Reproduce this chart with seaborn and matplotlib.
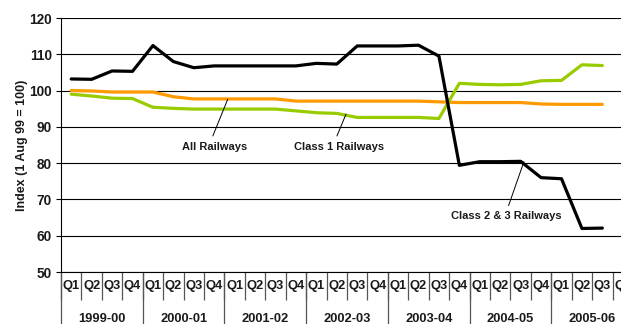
import numpy as np
import pandas as pd
import matplotlib
matplotlib.use("Agg")
import matplotlib.pyplot as plt
import seaborn as sns

# ---- data ----
years = ["1999-00", "2000-01", "2001-02", "2002-03", "2003-04", "2004-05", "2005-06"]
quarter_names = ["Q1", "Q2", "Q3", "Q4"]
quarter_labels = quarter_names * len(years)

all_railways = [100.0, 99.9, 99.6, 99.6, 99.6, 98.3, 97.7, 97.7, 97.7, 97.7, 97.7,
                97.1, 97.1, 97.1, 97.1, 97.1, 97.1, 97.1, 96.9, 96.7, 96.7, 96.7,
                96.7, 96.3, 96.2, 96.2, 96.2]
class1 = [99.0, 98.5, 97.9, 97.8, 95.4, 95.1, 94.9, 94.9, 94.9, 94.9, 94.9, 94.4,
          93.9, 93.7, 92.6, 92.6, 92.6, 92.6, 92.3, 102.0, 101.7, 101.6, 101.7,
          102.7, 102.8, 107.1, 106.9]
class23 = [103.2, 103.1, 105.4, 105.3, 112.4, 108.0, 106.3, 106.8, 106.8, 106.8,
           106.8, 106.8, 107.5, 107.3, 112.3, 112.3, 112.3, 112.5, 109.5, 79.4,
           80.4, 80.4, 80.5, 76.0, 75.7, 62.0, 62.1]

series_names = ["All Railways", "Class 1 Railways", "Class 2 & 3 Railways"]
series_colors = ["#FF9900", "#99CC00", "#000000"]

n = len(all_railways)
pos = np.arange(n) + 0.5  # category centres
df = pd.DataFrame({
    "pos": np.concatenate([pos, pos, pos]),
    "value": all_railways + class1 + class23,
    "series": [series_names[0]] * n + [series_names[1]] * n + [series_names[2]] * n,
})

# ---- style ----
sns.set_theme(style="white")
plt.rcParams["font.family"] = ["Liberation Sans", "DejaVu Sans"]
plt.rcParams["font.weight"] = "bold"
txt_color = "#1a1a1a"

W, H = 621, 324
fig = plt.figure(figsize=(W / 100, H / 100), dpi=100)
ax_left, ax_right, ax_top, ax_bottom = 61, 633, 18, 272
ax = fig.add_axes([ax_left / W, (H - ax_bottom) / H,
                   (ax_right - ax_left) / W, (ax_bottom - ax_top) / H])

sns.lineplot(data=df, x="pos", y="value", hue="series", palette=series_colors,
             hue_order=series_names, linewidth=2.3, legend=False, ax=ax,
             sort=False)
for line in ax.get_lines():
    line.set_solid_joinstyle("round")
    line.set_solid_capstyle("round")

ax.set_xlim(0, 4 * len(years))
ax.set_ylim(50, 120)

# y axis
ax.set_yticks(np.arange(50, 121, 10))
ax.tick_params(axis="y", which="major", left=True, length=3.5, width=0.8,
               color="black", pad=3, labelsize=9.8, labelcolor=txt_color)
for t in ax.get_yticklabels():
    t.set_fontweight("bold")
ax.grid(axis="y", color="black", linewidth=0.8)
ax.grid(axis="x", visible=False)
ax.set_axisbelow(True)
ax.set_ylabel("Index (1 Aug 99 = 100)", fontsize=9, fontweight="bold",
              color=txt_color)
ax.yaxis.set_label_coords(-0.058, 0.5)

for s in ["top", "right"]:
    ax.spines[s].set_visible(False)
ax.spines["left"].set_color("black")
ax.spines["left"].set_linewidth(0.8)
ax.spines["bottom"].set_color("black")
ax.spines["bottom"].set_linewidth(0.8)

# x axis: quarter labels + separators
ax.set_xticks(pos.tolist() + [n + 0.5], labels=quarter_labels)
ax.set_xticks(np.arange(0, 4 * len(years) + 1), minor=True)
ax.tick_params(axis="x", which="major", bottom=True, length=0, pad=6,
               labelsize=9.3, labelcolor=txt_color)
ax.tick_params(axis="x", which="minor", bottom=True, length=20.5, width=0.9,
               color="#555555")
for t in ax.get_xticklabels():
    t.set_fontweight("bold")

# year level
sec = ax.secondary_xaxis("bottom")
sec.set_xticks(np.arange(len(years)) * 4 + 2, labels=years)
sec.set_xticks(np.arange(0, 4 * len(years) + 1, 4), minor=True)
sec.tick_params(axis="x", which="major", length=0, pad=29.5, labelsize=9.3,
                labelcolor=txt_color)
sec.tick_params(axis="x", which="minor", length=40, width=0.9, color="#555555")
sec.spines["bottom"].set_visible(False)
for t in sec.get_xticklabels():
    t.set_fontweight("bold")
ax.set_xlabel("")

# annotations
ann_kw = dict(fontsize=8, fontweight="bold", color=txt_color, ha="center",
              va="center", annotation_clip=False)
ax.annotate("All Railways", xy=(8.16, 97.6), xytext=(7.54, 84.5),
            arrowprops=dict(arrowstyle="-", color="black", lw=0.7,
                            relpos=(0.43, 1.0), shrinkA=2, shrinkB=0),
            **ann_kw)
ax.annotate("Class 1 Railways", xy=(13.95, 93.5), xytext=(13.61, 84.5),
            arrowprops=dict(arrowstyle="-", color="black", lw=0.7,
                            relpos=(0.45, 1.0), shrinkA=2, shrinkB=0),
            **ann_kw)
ax.annotate("Class 2 & 3 Railways", xy=(22.66, 80.4), xytext=(21.81, 65.3),
            arrowprops=dict(arrowstyle="-", color="black", lw=0.7,
                            relpos=(0.5, 1.0), shrinkA=2, shrinkB=0),
            **ann_kw)

fig.savefig("out.png", dpi=100)
